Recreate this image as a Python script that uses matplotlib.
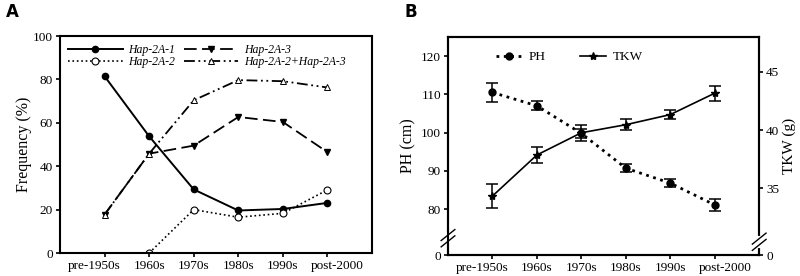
import matplotlib
matplotlib.use("Agg")
import matplotlib.pyplot as plt
import matplotlib.transforms as mtransforms
from matplotlib.lines import Line2D
import numpy as np

plt.rcParams['font.family'] = ['Liberation Serif', 'DejaVu Serif']
plt.rcParams['font.size'] = 9
plt.rcParams['axes.linewidth'] = 1.5

# data
decades = ["pre-1950s", "1960s", "1970s", "1980s", "1990s", "post-2000"]
hap1 = [81.5, 53.8, 29.3, 19.6, 20.3, 23.1]
hap2 = [np.nan, 0.0, 20.0, 16.5, 18.3, 29.1]
hap3 = [17.7, 45.8, 49.5, 62.7, 60.4, 46.5]
hap23 = [17.7, 45.8, 70.4, 79.7, 79.2, 76.3]

ph = [110.5, 107.0, 99.8, 90.7, 86.8, 81.1]
ph_err = [2.4, 1.2, 1.2, 1.0, 1.1, 1.6]
tkw = [34.33, 37.86, 39.77, 40.46, 41.33, 43.17]
tkw_err = [1.03, 0.71, 0.68, 0.46, 0.41, 0.65]

x = np.arange(len(decades))

fig = plt.figure(figsize=(8, 2.76), dpi=100)


def spread_end_labels(axis):
    # the outer category labels sit a little outward in the original
    labs = axis.get_xticklabels()
    labs[0].set_transform(labs[0].get_transform() +
                          mtransforms.ScaledTranslation(-10 / 100, 0, fig.dpi_scale_trans))
    labs[-1].set_transform(labs[-1].get_transform() +
                           mtransforms.ScaledTranslation(10 / 100, 0, fig.dpi_scale_trans))


# ---------------- panel A
a = fig.add_axes([0.075, 0.0833, 0.39, 0.786])
a.plot(x, hap1, '-k', lw=1.4, marker='o', ms=4.5, mfc='k', label='Hap-2A-1')
a.plot(x, hap2, ':k', lw=1.2, marker='o', ms=5, mfc='white', mec='k', mew=0.8, label='Hap-2A-2')
a.plot(x, hap3, color='k', ls=(0, (7, 3)), lw=1.3, marker='v', ms=4.5, mfc='k', label='Hap-2A-3')
a.plot(x, hap23, color='k', ls=(0, (6, 2, 1, 2, 1, 2)), lw=1.3, marker='^', ms=4.5,
       mfc='white', mec='k', mew=0.7, label='Hap-2A-2+Hap-2A-3')
a.set_xlim(-1, 6)
a.set_ylim(0, 100)
a.set_yticks([0, 20, 40, 60, 80, 100])
a.set_xticks(x)
a.set_xticklabels(decades)
a.set_ylabel('Frequency (%)', fontsize=11.5, labelpad=1)
a.tick_params(direction='out', length=3, width=1.2, pad=2, labelsize=9.5)
spread_end_labels(a)
a.legend(ncol=2, loc='upper left', frameon=False, handlelength=4.6, numpoints=1,
         prop={'style': 'italic', 'size': 8.5}, borderaxespad=0.3, labelspacing=0.0,
         columnspacing=0.7, handletextpad=0.5, borderpad=0.4)
fig.text(0.008, 0.955, 'A', fontsize=12, fontweight='bold', family='DejaVu Sans', va='center')

# ---------------- panel B
b = fig.add_axes([0.56, 0.076, 0.389, 0.79])
b2 = b.twinx()
b.errorbar(x, ph, yerr=ph_err, color='k', ls=':', lw=2.0, marker='o', ms=5,
           capsize=4, elinewidth=1.1, capthick=1.1)
b2.errorbar(x, tkw, yerr=tkw_err, color='k', ls='-', lw=1.2, marker='*', ms=6,
            capsize=4, elinewidth=1.1, capthick=1.1)

b.set_xlim(-1, 6)
b.set_ylim(68, 125)
b.set_yticks([68, 80, 90, 100, 110, 120])
b.set_yticklabels(['0', '80', '90', '100', '110', '120'])
b2.set_ylim(29.26, 48.0)
b2.set_yticks([29.26, 35, 40, 45])
b2.set_yticklabels(['0', '35', '40', '45'])
b.set_xticks(x)
b.set_xticklabels(decades)
b.set_ylabel('PH (cm)', fontsize=11.5, labelpad=3)
b2.set_ylabel('TKW (g)', fontsize=11, labelpad=2)
for axis in (b, b2):
    axis.tick_params(direction='out', length=3, width=1.2, pad=2, labelsize=9.5)
spread_end_labels(b)

# axis break marks
for axis, yb, xa in ((b, 72.4, 0.0), (b2, 30.4, 1.0)):
    tr = mtransforms.blended_transform_factory(axis.transAxes, axis.transData)
    ylo, yhi = axis.get_ylim()
    d = (yhi - ylo) * 0.018
    axis.plot([xa, xa], [yb - d, yb + d], color='white', lw=3, transform=tr, clip_on=False, zorder=10)
    for off in (-d * 0.8, d * 0.8):
        axis.plot([xa - 0.022, xa + 0.022], [yb + off - 1.4 * d, yb + off + 1.4 * d], color='k',
                  lw=1.0, transform=tr, clip_on=False, zorder=11)

handles = [Line2D([], [], color='k', ls=':', lw=2.0, marker='o', ms=5),
           Line2D([], [], color='k', ls='-', lw=1.2, marker='*', ms=6)]
b.legend(handles, ['PH', 'TKW'], ncol=2, loc='upper left', bbox_to_anchor=(0.115, 0.99), frameon=False,
         handlelength=2.0, numpoints=1, fontsize=9.5, columnspacing=2.6, handletextpad=0.5)
fig.text(0.506, 0.955, 'B', fontsize=12, fontweight='bold', family='DejaVu Sans', va='center')

fig.savefig('out.png', dpi=100)
